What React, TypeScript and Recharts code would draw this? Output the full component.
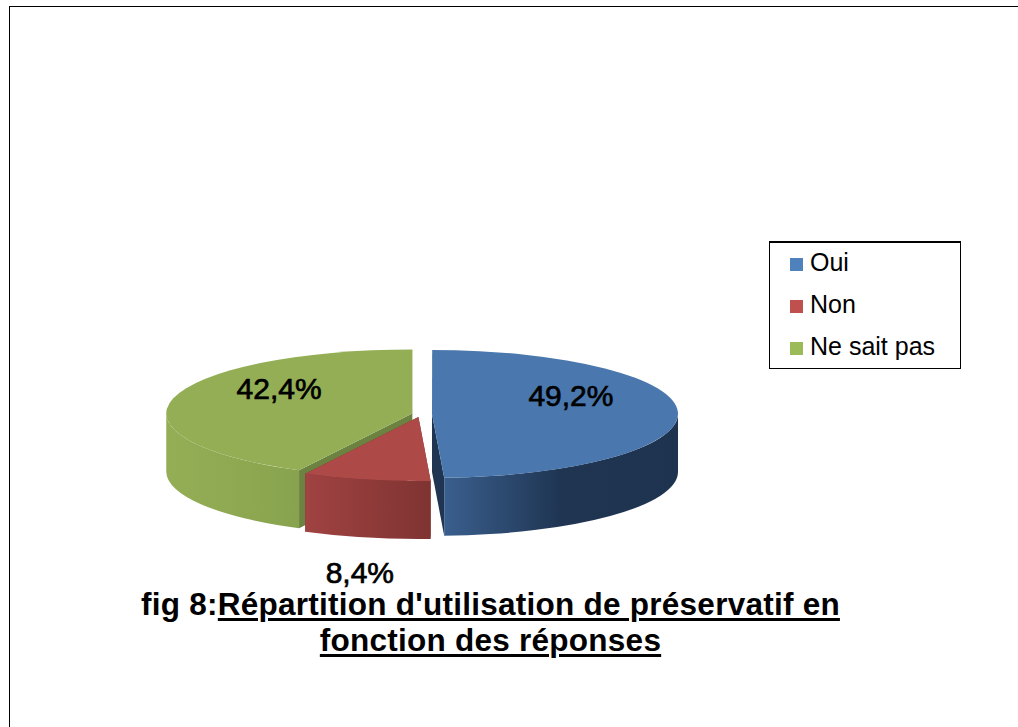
import React from "react";
import { PieChart, Pie, Legend } from "recharts";

const categories = ["Oui", "Non", "Ne sait pas"];
const values = [49.2, 8.4, 42.4];
const legendColors = ["#4f81bd", "#c0504d", "#9bbb59"];
// Draw order: back slice first, so the red slice overlaps the green cut wall.
const drawOrder = [2, 0, 1];

const rows = drawOrder.map((i) => ({
  name: categories[i],
  value: values[i],
  fill: legendColors[i],
}));

const FONT = '"Liberation Sans", Arial, sans-serif';
const SQUASH = 64 / 246;
const DEPTH = 58;

const looks: Record<string, any> = {
  Oui: { explode: 11, face: "#4a78ae", cut: "#1f3552", wall: ["#3a5f8e", "#1f3552", "#1e3350"], labelR: 0.565, lift: 18 },
  Non: { explode: 12, face: "#ad4a48", cut: "#7a302e", wall: ["#a04342", "#8f3b3a", "#7f3432"], labelR: 1.12, lift: -85 },
  "Ne sait pas": { explode: 9, face: "#93ae55", cut: "#6b8240", wall: ["#93ae55", "#8fa952", "#88a34e"], labelR: 0.557, lift: 16 },
};

function offset(name: string, mid: number) {
  const e = looks[name].explode;
  const r = (mid * Math.PI) / 180;
  return { dx: e * Math.sin(r), dy: -e * Math.cos(r) * SQUASH };
}

function Slice3D(props: any) {
  const { cx, cy, outerRadius, startAngle, endAngle, name } = props;
  const a0 = (((90 - startAngle) % 360) + 360) % 360;
  const a1 = a0 + (startAngle - endAngle);
  const { dx, dy } = offset(name, (a0 + a1) / 2);
  const x = cx + dx;
  const y = cy + dy;
  const rx = outerRadius;
  const ry = outerRadius * SQUASH;
  const pt = (a: number) => {
    const r = (a * Math.PI) / 180;
    return [x + rx * Math.sin(r), y - ry * Math.cos(r)];
  };
  const look = looks[name];
  const id = "wall-" + name.replace(/\s/g, "");
  const p0 = pt(a0);
  const p1 = pt(a1);
  const face = `M${x},${y} L${p0[0]},${p0[1]} A${rx},${ry} 0 ${a1 - a0 > 180 ? 1 : 0} 1 ${p1[0]},${p1[1]} Z`;
  const cut = (p: number[]) =>
    `M${x},${y} L${p[0]},${p[1]} L${p[0]},${p[1] + DEPTH} L${x},${y + DEPTH} Z`;
  const s = Math.max(a0, 90);
  const e = Math.min(a1, 270);
  const ps = pt(s);
  const pe = pt(e);
  const wall = `M${ps[0]},${ps[1]} A${rx},${ry} 0 0 1 ${pe[0]},${pe[1]} L${pe[0]},${pe[1] + DEPTH} A${rx},${ry} 0 0 0 ${ps[0]},${ps[1] + DEPTH} Z`;
  return (
    <g>
      <defs>
        <linearGradient id={id} x1="0" y1="0" x2="1" y2="0">
          <stop offset="0" stopColor={look.wall[0]} />
          <stop offset="0.5" stopColor={look.wall[1]} />
          <stop offset="1" stopColor={look.wall[2]} />
        </linearGradient>
      </defs>
      <path d={cut(p0)} fill={look.cut} />
      <path d={cut(p1)} fill={look.cut} />
      {e > s && <path d={wall} fill={`url(#${id})`} />}
      <path d={face} fill={look.face} />
    </g>
  );
}

function SliceLabel(props: any) {
  const { cx, cy, outerRadius, midAngle, name, value } = props;
  // midAngle is in the library's math convention; turn it into clockwise-from-top.
  const mid = 90 - midAngle;
  const { dx, dy } = offset(name, mid);
  const look = looks[name];
  const r = (mid * Math.PI) / 180;
  const px = cx + dx + outerRadius * look.labelR * Math.sin(r);
  const py = cy + dy - outerRadius * SQUASH * look.labelR * Math.cos(r) - look.lift;
  return (
    <text
      x={px}
      y={py}
      textAnchor="middle"
      dominantBaseline="central"
      fontFamily={FONT}
      fontSize={30}
      fill="#000"
      stroke="#000"
      strokeWidth={0.7}
    >
      {String(value).replace(".", ",") + "%"}
    </text>
  );
}

function LegendBox({ payload }: any) {
  const items = [...(payload || [])].sort(
    (a: any, b: any) => categories.indexOf(a.value) - categories.indexOf(b.value)
  );
  return (
    <div
      style={{
        boxSizing: "border-box",
        width: 192,
        height: 128,
        border: "1px solid #000",
        borderTopWidth: 2,
        background: "#fff",
      }}
    >
      {items.map((it: any) => (
        <div
          key={it.value}
          style={{
            display: "flex",
            alignItems: "center",
            height: 42,
            paddingLeft: 20,
            fontFamily: FONT,
            fontSize: 25,
            color: "#000",
          }}
        >
          <span style={{ width: 13, height: 13, background: it.color, marginRight: 7, display: "inline-block" }} />
          <span style={{ position: "relative", top: -2 }}>{it.value}</span>
        </div>
      ))}
    </div>
  );
}

const titleLine: React.CSSProperties = {
  position: "absolute",
  left: 0,
  width: 981,
  textAlign: "center",
  fontFamily: FONT,
  fontWeight: 700,
  fontSize: 31.5,
  lineHeight: "36px",
  letterSpacing: 0.25,
  color: "#000",
  whiteSpace: "nowrap",
};
const underline: React.CSSProperties = {
  textDecoration: "underline",
  textDecorationThickness: 3,
  textUnderlineOffset: 3,
};

export default function App() {
  return (
    <div style={{ position: "absolute", left: 0, top: 0, width: 1018, height: 727, overflow: "hidden", background: "#fff" }}>
      <div style={{ position: "absolute", left: 9, top: 6, width: 1009, height: 721, borderTop: "1px solid #000", borderLeft: "1px solid #000" }} />
      <div style={{ position: "absolute", left: 0, top: 0 }}>
        <PieChart width={1018} height={727} margin={{ top: 0, right: 0, bottom: 0, left: 0 }}>
          <Pie
            data={rows}
            dataKey="value"
            nameKey="name"
            cx={421}
            cy={414}
            outerRadius={246}
            startAngle={-117.4}
            endAngle={-477.4}
            stroke="none"
            isAnimationActive={false}
            shape={Slice3D}
            label={SliceLabel}
            labelLine={false}
          />
          <Legend
            layout="vertical"
            align="right"
            verticalAlign="top"
            wrapperStyle={{ left: 769, top: 241, width: 192, height: 128 }}
            content={LegendBox}
          />
        </PieChart>
      </div>
      <div style={{ ...titleLine, top: 586 }}>
        fig 8:<span style={underline}>Répartition d'utilisation de préservatif en</span>
      </div>
      <div style={{ ...titleLine, top: 622 }}>
        <span style={underline}>fonction des réponses</span>
      </div>
    </div>
  );
}
